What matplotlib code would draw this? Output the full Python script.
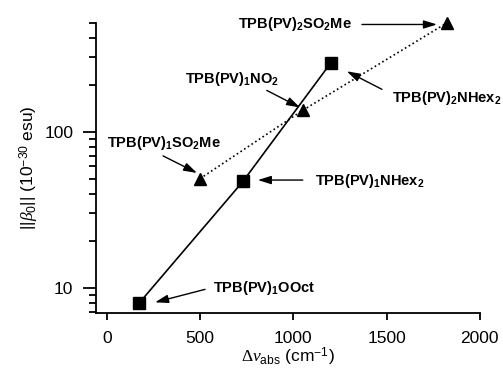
import matplotlib
matplotlib.use("Agg")
import matplotlib.pyplot as plt

plt.rcParams['font.family'] = ['Liberation Sans', 'DejaVu Sans']
plt.rcParams['mathtext.fontset'] = 'custom'
plt.rcParams['mathtext.rm'] = 'Liberation Serif'
plt.rcParams['mathtext.it'] = 'Liberation Serif:italic'
plt.rcParams['mathtext.sf'] = 'Liberation Sans'
plt.rcParams['mathtext.bf'] = 'Liberation Sans:bold'

# NHex2 / OOct series (squares, solid line)
sq_x = [175, 730, 1200]
sq_y = [8.0, 48, 275]

# SO2Me / NO2 series (triangles, dotted line)
tri_x = [500, 1050, 1825]
tri_y = [50, 137, 500]

# labels: text, text position, arrow tail, arrow head (data coords)
labels = [
    (r'TPB(PV)$_\mathbf{2}$SO$_\mathbf{2}$Me', (703, 487), (1368, 487), (1770, 487)),
    (r'TPB(PV)$_\mathbf{1}$NO$_\mathbf{2}$', (420, 217), (858, 184), (1036, 143)),
    (r'TPB(PV)$_\mathbf{2}$NHex$_\mathbf{2}$', (1527, 164), (1475, 187), (1287, 244)),
    (r'TPB(PV)$_\mathbf{1}$SO$_\mathbf{2}$Me', (2, 84.6), (302, 70), (484, 54.4)),
    (r'TPB(PV)$_\mathbf{1}$NHex$_\mathbf{2}$', (1115, 48.4), (1051, 49), (810, 49)),
    (r'TPB(PV)$_\mathbf{1}$OOct', (570, 10.0), (527, 9.76), (259, 8.06)),
]

fig = plt.figure(figsize=(5.03, 3.72), dpi=100)
ax = fig.add_axes([0.191, 0.159, 0.763, 0.78])

ax.plot(sq_x, sq_y, '-', color='black', lw=1.2, marker='s', ms=9, clip_on=False)
ax.plot(tri_x, tri_y, ':', color='black', lw=1.2, marker='^', ms=9, clip_on=False)

for txt, tpos, tail, head in labels:
    ax.text(tpos[0], tpos[1], txt, fontsize=10.5, fontweight='bold',
            ha='left', va='center')
    ax.annotate('', xy=head, xytext=tail,
                arrowprops=dict(arrowstyle='-|>,head_length=0.8,head_width=0.25',
                                color='black', lw=1.0, shrinkA=0, shrinkB=0))

ax.set_yscale('log')
ax.set_xlim(-57, 2000)
ax.set_ylim(6.9, 500)
ax.set_xticks([0, 500, 1000, 1500, 2000])
ax.set_yticks([10, 100])
ax.set_yticklabels(['10', '100'])

ax.spines['top'].set_visible(False)
ax.spines['right'].set_visible(False)
for s in ['left', 'bottom']:
    ax.spines[s].set_linewidth(1.3)

ax.tick_params(axis='x', which='major', direction='out', length=5, width=1.3, labelsize=12.5, pad=8)
ax.tick_params(axis='y', which='major', direction='out', length=9.5, width=1.3, labelsize=12.5, pad=7)
ax.tick_params(axis='y', which='minor', direction='out', length=5, width=1.3)

ax.set_xlabel(r'$\Delta\nu_{\mathsf{abs}}$ (cm$^{\mathsf{-1}}$)', fontsize=12.5, labelpad=0)
ax.set_ylabel(r'||$\beta_{\mathsf{0}}$|| (10$^{\mathsf{-30}}$ esu)', fontsize=12.5, labelpad=2)

fig.savefig('out.png', dpi=100)
